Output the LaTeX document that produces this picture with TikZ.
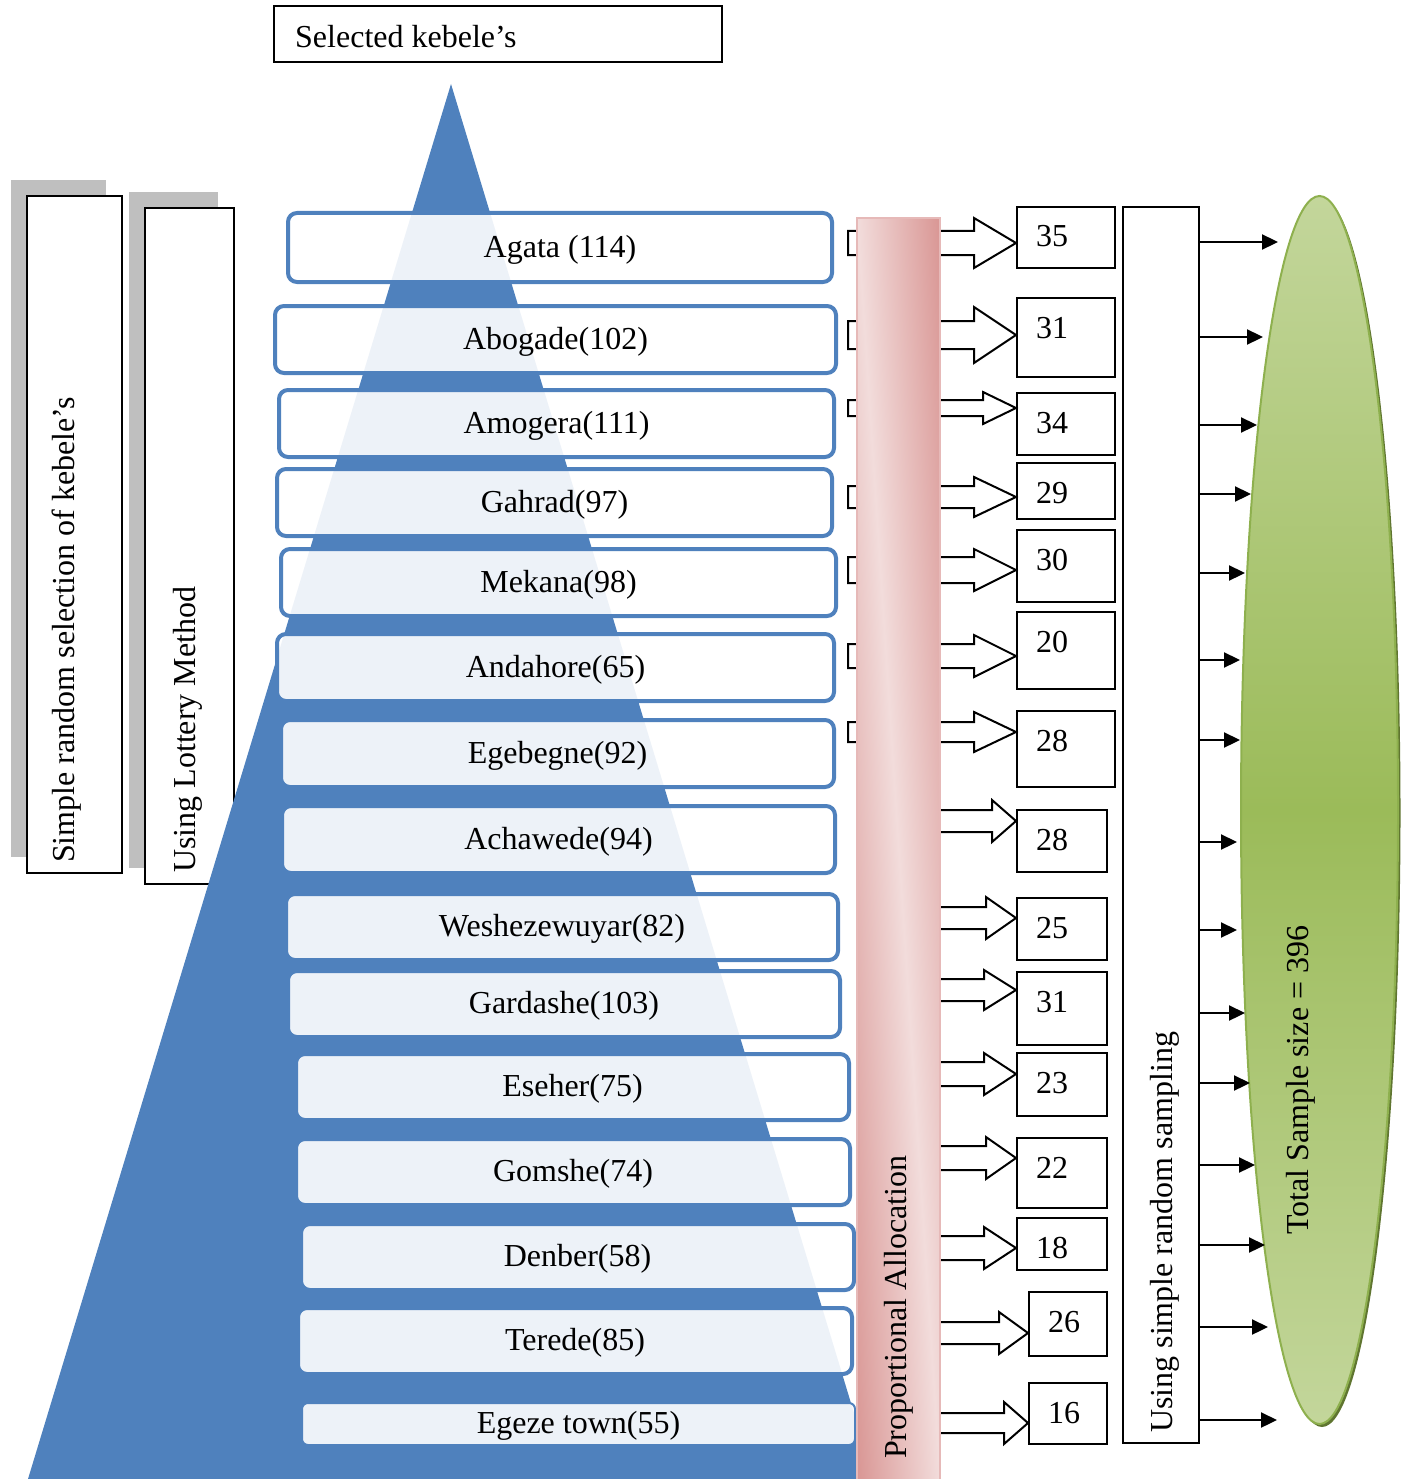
\documentclass[tikz,border=0pt]{standalone}
\usepackage{fontspec}
\setmainfont{Liberation Serif}
\usetikzlibrary{shapes.geometric,arrows.meta,calc,fit}
\definecolor{pyblue}{HTML}{4F81BD}
\definecolor{shgray}{HTML}{BFBFBF}
\definecolor{barline}{HTML}{E6B9B8}
\definecolor{glight}{HTML}{C3D69B}
\definecolor{gmid}{HTML}{9BBB59}
\definecolor{gline}{HTML}{8EB04E}
\definecolor{gshadow}{HTML}{5F7530}
\pgfdeclarefunctionalshading{barshade}{\pgfpoint{0bp}{0bp}}{\pgfpoint{100bp}{100bp}}{}{
  add 100 sub abs 50 div dup 1 gt {pop 1} if
  dup -0.098 mul 0.949 add exch
  dup -0.275 mul 0.863 add exch
  -0.279 mul 0.859 add
}
\newcommand\blockarr[6]{% start x, y, target node, shaft half, head half, head length
  \coordinate (tip#3) at (#3.west |- 0,#2);
  \draw[barr] (#1,#2-#4) -- ($(tip#3)+(-#6,-#4)$) -- ($(tip#3)+(-#6,-#5)$) -- (tip#3)
     -- ($(tip#3)+(-#6,#5)$) -- ($(tip#3)+(-#6,#4)$) -- (#1,#2+#4) -- cycle;}
\begin{document}
\begin{tikzpicture}[x=1pt,y=-1pt,
  every node/.style={font=\fontsize{32}{38}\selectfont, inner sep=0pt},
  kbox/.style={draw=pyblue, line width=4pt, rounded corners=9pt, fill=white, fill opacity=0.9, text opacity=1},
  plainbox/.style={draw=black, line width=2pt, fill=white},
  shadowbox/.style={fill=shgray, draw=none},
  nbox/.style={draw=black, line width=2pt, fill=white},
  barr/.style={draw=black, line width=2pt, fill=white, line join=miter},
  sarr/.style={draw=black, line width=2.2pt, -{Triangle[length=16pt,width=15pt]}},
  vtext/.style={rotate=90, anchor=west}]
\useasboundingbox (0,0) rectangle (1405,1479);

% title box
\node[plainbox, fit={(274,6)(722,62)}] (title) {};
\node[anchor=west] (titletext) at (295,37) {Selected kebele’s};

% left boxes
\node[shadowbox, fit={(11,180)(106,857)}] (sh1) {};
\node[plainbox, fit={(27,196)(122,873)}] (lb1) {};
\node[vtext] (lt1) at (67,863) {Simple random selection of kebele’s};
\node[shadowbox, fit={(129,192)(218,868)}] (sh2) {};
\node[plainbox, fit={(145,208)(234,884)}] (lb2) {};
\node[vtext] (lt2) at (188,873) {Using Lottery Method};

% pyramid
\fill[pyblue] (451,84) -- (874,1479) -- (28,1479) -- cycle;

% kebele boxes
\foreach \n/\xa/\ya/\xb/\yb/\t in {
  1/288/213/832/282/Agata (114),
  2/275/306/836/373/Abogade(102),
  3/279/390/834/457/Amogera(111),
  4/277/469/832/536/Gahrad(97),
  5/281/549/836/616/Mekana(98),
  6/277/634/834/701/Andahore(65),
  7/281/720/834/787/Egebegne(92),
  8/282/806/835/873/Achawede(94),
  9/286/894/838/960/Weshezewuyar(82),
  10/288/971/840/1037/Gardashe(103),
  11/296/1054/849/1120/Eseher(75),
  12/296/1139/850/1205/Gomshe(74),
  13/301/1224/854/1290/Denber(58),
  14/298/1308/852/1374/Terede(85)}{
  \node[kbox, fit={(\xa,\ya)(\xb,\yb)}] (kb\n) {};
  \node (kt\n) at ($(kb\n.center)+(0,2)$) {\t};
}
\node[kbox, line width=2pt, rounded corners=6pt, fit={(302,1403)(855,1445)}] (kb15) {};
\node (kt15) at ($(kb15.center)+(0,2)$) {Egeze town(55)};

% number boxes
\foreach \n/\xa/\ya/\xb/\yb/\t in {
  1/1017/207/1115/268/35,
  2/1017/298/1115/377/31,
  3/1017/393/1115/455/34,
  4/1017/463/1115/519/29,
  5/1017/530/1115/602/30,
  6/1017/612/1115/689/20,
  7/1017/711/1115/787/28,
  8/1017/810/1107/872/28,
  9/1017/898/1107/960/25,
  10/1017/972/1107/1045/31,
  11/1017/1053/1107/1116/23,
  12/1017/1138/1107/1208/22,
  13/1017/1218/1107/1270/18,
  14/1029/1292/1107/1356/26,
  15/1029/1383/1107/1444/16}{
  \node[nbox, fit={(\xa,\ya)(\xb,\yb)}] (nb\n) {};
  \node[anchor=base west] (nt\n) at ($(nb\n.north west)+(20,41)$) {\t};
}

% block arrows (drawn before the bar so the bar covers their tails)
\blockarr{848}{243}{nb1}{12}{25}{42}
\blockarr{848}{335}{nb2}{14}{28}{42}
\blockarr{848}{408}{nb3}{8}{16}{33}
\blockarr{848}{497}{nb4}{11}{20}{42}
\blockarr{848}{570}{nb5}{13}{21}{42}
\blockarr{848}{656}{nb6}{12}{21}{42}
\blockarr{848}{732}{nb7}{10}{20}{42}
\blockarr{930}{821}{nb8}{11}{21}{24}
\blockarr{930}{918}{nb9}{11}{21}{30}
\blockarr{930}{990}{nb10}{11}{20}{32}
\blockarr{930}{1074}{nb11}{12}{21}{32}
\blockarr{930}{1158}{nb12}{12}{21}{30}
\blockarr{930}{1248}{nb13}{12}{21}{32}
\blockarr{930}{1333}{nb14}{11}{21}{29}
\blockarr{930}{1423}{nb15}{10}{21}{24}

% proportional allocation bar
\node[draw=barline, line width=2pt, shading=barshade, fit={(857,218)(940,1482)}] (bar) {};
\node[vtext] (bartext) at (899,1459) {Proportional Allocation};

% sampling box
\node[plainbox, fit={(1123,207)(1199,1443)}] (samp) {};
\node[vtext] (samptext) at (1165,1433) {Using simple random sampling};

% ellipse
\node[ellipse, fill=gshadow, minimum width=157pt, minimum height=1228pt] (ellsh) at (1322,813) {};
\node[ellipse, draw=gline, line width=2pt, top color=glight, bottom color=glight, middle color=gmid,
      minimum width=157pt, minimum height=1228pt] (ell) at (1319.5,810) {};
\node[vtext] (total) at (1301,1235) {Total Sample size = 396};

% arrows to ellipse
\foreach \i/\y/\xe in {1/242/1278, 2/337/1263, 3/425/1257, 4/494/1251, 5/573/1245,
  6/660/1240, 7/740/1240, 8/842/1237, 9/930/1237, 10/1013/1245, 11/1083/1250,
  12/1165/1255, 13/1245/1265, 14/1327/1268, 15/1420/1277}{
  \coordinate (e\i) at (\xe,\y);
  \draw[sarr] (samp.east |- e\i) -- (e\i);
}
\end{tikzpicture}
\end{document}
